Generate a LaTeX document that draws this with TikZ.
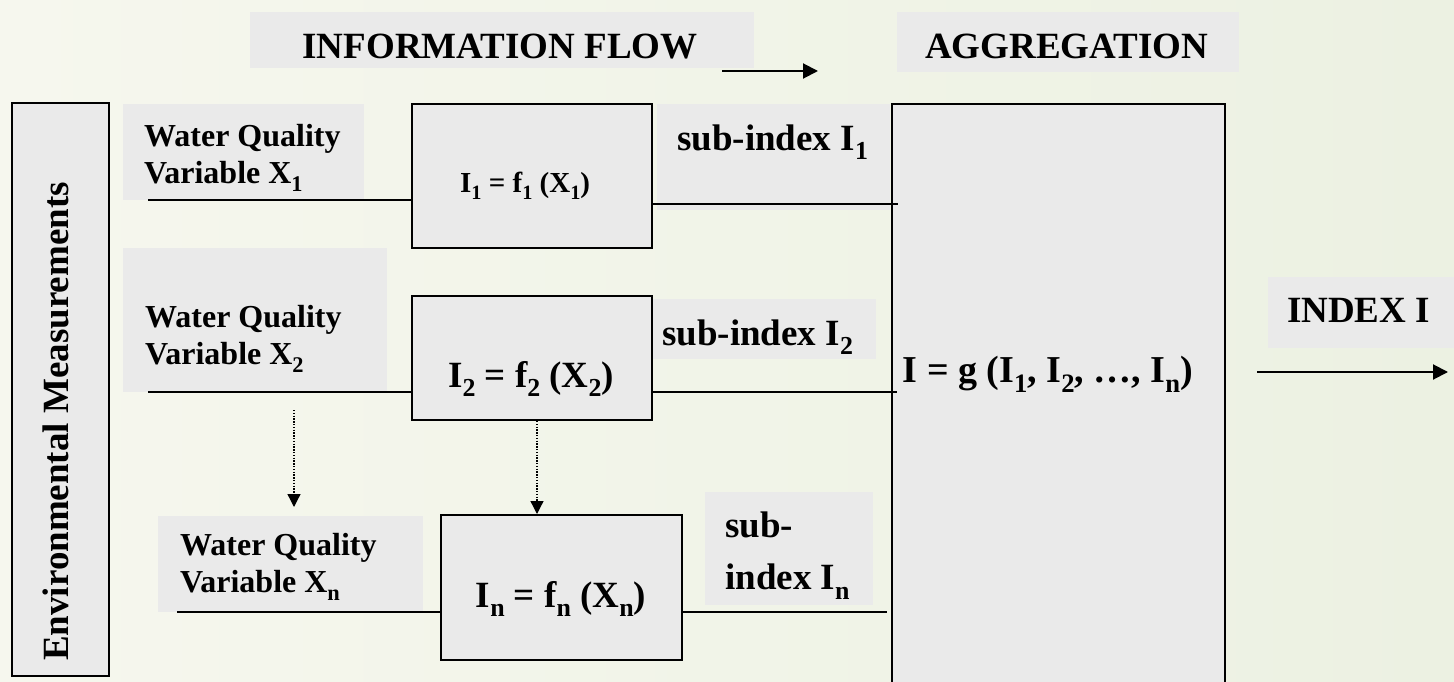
\documentclass[tikz,border=0pt]{standalone}
\usepackage{fontspec}
\setmainfont{Liberation Serif}
\usetikzlibrary{arrows.meta}
\definecolor{boxgray}{RGB}{234,234,234}
\definecolor{paperA}{RGB}{246,247,238}
\definecolor{paperB}{RGB}{236,241,226}
\newcommand\subs[1]{\raisebox{-0.27em}{\scalebox{0.7}{#1}}}
\begin{document}
\begin{tikzpicture}[x=1pt,y=-1pt,
 txt/.style={inner sep=0pt,align=left,font=\bfseries\fontsize{37}{44}\selectfont},
 wq/.style={txt,font=\bfseries\fontsize{32}{37}\selectfont},
 blk/.style={draw,line width=2pt,fill=boxgray,inner sep=0pt},
 ln/.style={line width=2pt},
 dotarrow/.style={line width=1.3pt,dash pattern=on 1.4pt off 1.4pt,-{Triangle[length=13pt,width=13pt]}},
 flow/.style={line width=2pt,-{Triangle[length=15pt,width=15pt]}}]
 \useasboundingbox (0,0) rectangle (1454,682);
 \shade[left color=paperA,right color=paperB] (0,0) rectangle (1454,682); \clip (0,0) rectangle (1454,682);
 % grey label backgrounds
 \foreach \xa/\ya/\xb/\yb in {250/12/754/68,897/12/1239/72,123/104/364/200,657/104/890/210,123/248/387/392,652/299/876/359,158/516/423/612,705/492/873/605,1268/277/1454/348}
  {\fill[boxgray] (\xa,\ya) rectangle (\xb,\yb);}
 \node[blk,minimum width=97,minimum height=573] (env) at (60.5,389.5) {};
 \node[blk,minimum width=240,minimum height=144] (f1) at (532,176) {};
 \node[blk,minimum width=240,minimum height=124] (f2) at (532,358) {};
 \node[blk,minimum width=241,minimum height=145] (fn) at (561.5,587.5) {};
 \node[blk,minimum width=333,minimum height=600] (agg) at (1058.5,404) {};
 \node[txt,rotate=90,anchor=base] (envt) at (68,421.5) {Environmental Measurements};
 \node[txt,font=\bfseries\fontsize{29}{34}\selectfont,anchor=base west] (f1t) at (460,192) {I\subs{1} = f\subs{1} (X\subs{1})};
 \node[txt,anchor=base] (f2t) at (531,387) {I\subs{2} = f\subs{2} (X\subs{2})};
 \node[txt,anchor=base] (fnt) at (561,607) {I\subs{n} = f\subs{n} (X\subs{n})};
 \node[txt,font=\bfseries\fontsize{38}{44}\selectfont,anchor=base east] (aggt) at (1193,382) {I = g (I\subs{1}, I\subs{2}, …, I\subs{n})};
 \node[txt,anchor=base] (flowt) at (500,59) {INFORMATION FLOW};
 \node[txt,anchor=base] (aggr) at (1066.5,59) {AGGREGATION};
 \node[txt,anchor=base] (idx) at (1358.5,322) {INDEX I};
 \node[wq,anchor=west] (x1) at (144,158) {Water Quality\\Variable X\subs{1}};
 \node[wq,anchor=west] (x2) at (145,339) {Water Quality\\Variable X\subs{2}};
 \node[wq,anchor=west] (xn) at (180,567) {Water Quality\\Variable X\subs{n}};
 \node[txt,anchor=base west] (s1) at (677,150) {sub-index I\subs{1}};
 \node[txt,anchor=base west] (s2) at (662,345) {sub-index I\subs{2}};
 \node[txt,font=\bfseries\fontsize{37}{52}\selectfont,anchor=west] (sn) at (725,556) {sub-\\index I\subs{n}};
 % connectors
 \coordinate (x1in) at (148,200); \coordinate (s1out) at (898,204);
 \coordinate (x2in) at (148,392); \coordinate (xnin) at (177,612);
 \draw[ln] (x1in) -- (x1in -| f1.west); \draw[ln] (s1out -| f1.east) -- (s1out);
 \draw[ln] (x2in) -- (x2in -| f2.west); \draw[ln] (x2in -| f2.east) -- ([xshift=6pt]x2in -| agg.west);
 \draw[ln] (xnin) -- (xnin -| fn.west); \draw[ln] (xnin -| fn.east) -- ([xshift=-4pt]xnin -| agg.west);
 \coordinate (d1) at (294,410); \coordinate (d1e) at (294,507);
 \draw[dotarrow] (d1) -- (d1e); \draw[dotarrow] ([xshift=5pt]f2.south) -- ([xshift=5pt]f2.south |- fn.north);
 \coordinate (fa) at (722,71); \coordinate (fb) at (818,71); \draw[flow] (fa) -- (fb);
 \coordinate (oa) at (1257,372); \coordinate (ob) at (1448,372); \draw[flow] (oa) -- (ob);
\end{tikzpicture}
\end{document}
